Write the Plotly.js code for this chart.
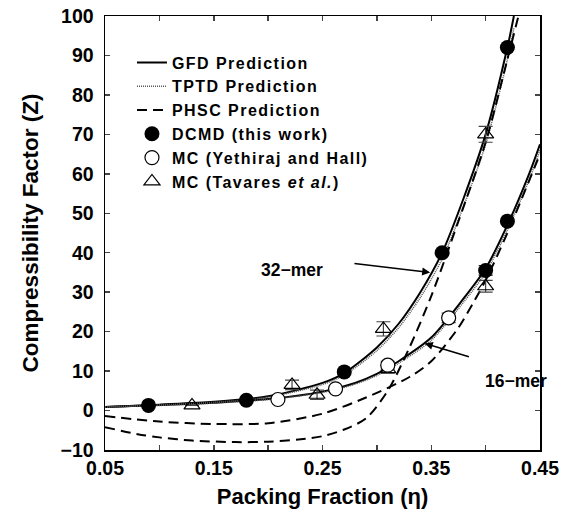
<!DOCTYPE html>
<html>
<head>
<meta charset="utf-8">
<script src="https://cdn.plot.ly/plotly-3.0.1.min.js"></script>
<style>
html,body{margin:0;padding:0;background:#fff;}
#chart{width:571px;height:514px;}
.legendtext{letter-spacing:1.45px;}
</style>
</head>
<body>
<div id="chart"></div>
<script>
// ---- data ----
// 32-mer predictions
const eta32Pred   = [0.05, 0.10, 0.15, 0.20, 0.25, 0.27, 0.30, 0.32, 0.34, 0.36, 0.38, 0.40, 0.42, 0.426];
const gfd32       = [0.9, 1.5, 2.2, 3.6, 7.0, 9.5, 16, 22, 30, 40, 54, 70, 92, 100];
const tptd32      = [0.9, 1.4, 2.1, 3.4, 6.6, 9.0, 15.2, 21, 28.7, 38.4, 52, 67.5, 89, 97];
const etaPhsc32   = [0.05, 0.08, 0.10, 0.13, 0.17, 0.20, 0.23, 0.25, 0.27, 0.29, 0.31, 0.33, 0.35, 0.375, 0.40, 0.42, 0.432];
const phsc32      = [-4.2, -6.0, -6.8, -7.6, -8.0, -7.9, -7.3, -6.5, -4.8, -2.0, 5, 16, 29, 48, 68, 89, 102];
// 16-mer predictions
const eta16Pred   = [0.05, 0.10, 0.15, 0.20, 0.25, 0.28, 0.30, 0.32, 0.35, 0.38, 0.40, 0.42, 0.44, 0.45];
const gfd16       = [0.9, 1.4, 2.0, 2.9, 4.8, 7.0, 9.3, 12.5, 18.5, 28.5, 36, 47, 60, 67.5];
const tptd16      = [0.9, 1.3, 1.9, 2.8, 4.6, 6.7, 8.9, 12.0, 17.8, 27.6, 35, 45.8, 58.5, 66];
const etaPhsc16   = [0.05, 0.10, 0.15, 0.20, 0.25, 0.29, 0.33, 0.35, 0.375, 0.39, 0.40, 0.42, 0.45];
const phsc16      = [-1.4, -2.8, -3.4, -3.2, -0.8, 3.3, 8.5, 12.5, 21, 28, 33, 45, 65];
// DCMD (this work)
const dcmdEta     = [0.09, 0.18, 0.27, 0.36, 0.42, 0.40, 0.42];
const dcmdZ       = [1.3, 2.6, 9.8, 40, 92, 35.5, 48];
const dcmdErr     = [0, 0, 0, 0, 0, 1.2, 0];
// MC (Yethiraj and Hall)
const yhEta       = [0.209, 0.262, 0.31, 0.366];
const yhZ         = [2.8, 5.5, 11.5, 23.5];
const yhErr       = [0, 0, 1, 1.2];
// MC (Tavares et al.)
const tvEta       = [0.13, 0.222, 0.245, 0.306, 0.31, 0.40, 0.40];
const tvZ         = [1.3, 6.5, 4.0, 20.7, 10.5, 70, 31.5];
const tvErr       = [0, 1.2, 1.2, 1.8, 1.0, 2, 1.5];
// axis ticks
const xTickVals   = [0.05, 0.10, 0.15, 0.20, 0.25, 0.30, 0.35, 0.40, 0.45];
const xTickText   = ['0.05', '', '0.15', '', '0.25', '', '0.35', '', '0.45'];
const yTickVals   = [-10, 0, 10, 20, 30, 40, 50, 60, 70, 80, 90, 100];
const yTickText   = ['\u221210', '0', '10', '20', '30', '40', '50', '60', '70', '80', '90', '100'];

const FONT = 'Liberation Sans, Arial, Helvetica, sans-serif';
const solid = {color: '#000', width: 2, shape: 'spline', smoothing: 0.8};
const dotted = {color: '#555', width: 1.6, dash: '1px,1px', shape: 'spline', smoothing: 0.8};
const dashed = {color: '#000', width: 2, dash: '10px,6px', shape: 'spline', smoothing: 0.8};

const traces = [
  {x: eta32Pred, y: gfd32, mode: 'lines', line: solid, name: 'GFD Prediction', legendgroup: 'gfd', legendrank: 1},
  {x: eta16Pred, y: gfd16, mode: 'lines', line: solid, name: 'GFD Prediction', legendgroup: 'gfd', showlegend: false},
  {x: eta32Pred, y: tptd32, mode: 'lines', line: dotted, name: 'TPTD Prediction', legendgroup: 'tptd', legendrank: 2},
  {x: eta16Pred, y: tptd16, mode: 'lines', line: dotted, name: 'TPTD Prediction', legendgroup: 'tptd', showlegend: false},
  {x: etaPhsc32, y: phsc32, mode: 'lines', line: dashed, name: 'PHSC Prediction', legendgroup: 'phsc', legendrank: 3},
  {x: etaPhsc16, y: phsc16, mode: 'lines', line: dashed, name: 'PHSC Prediction', legendgroup: 'phsc', showlegend: false},
  {x: tvEta, y: tvZ, mode: 'markers', name: 'MC (Tavares <i>et al.</i>)', legendrank: 6,
   marker: {symbol: 'triangle-up-open', size: 14, color: '#000', line: {width: 1.2}},
   error_y: {type: 'data', array: tvErr, visible: true, color: '#444', thickness: 1.2, width: 7}},
  {x: yhEta, y: yhZ, mode: 'markers', name: 'MC (Yethiraj and Hall)', legendrank: 5,
   marker: {symbol: 'circle', size: 14, color: '#fff', line: {color: '#000', width: 1.2}},
   error_y: {type: 'data', array: yhErr, visible: true, color: '#444', thickness: 1.2, width: 7}},
  {x: dcmdEta, y: dcmdZ, mode: 'markers', name: 'DCMD (this work)', legendrank: 4,
   marker: {symbol: 'circle', size: 15, color: '#000'},
   error_y: {type: 'data', array: dcmdErr, visible: true, color: '#000', thickness: 1.2, width: 7}}
];

const layout = {
  width: 571, height: 514,
  margin: {l: 105, r: 31, t: 16, b: 64},
  paper_bgcolor: '#fff', plot_bgcolor: '#fff',
  font: {family: FONT, color: '#000', weight: 'bold'},
  showlegend: true,
  legend: {x: 0.062, y: 0.932, xanchor: 'left', yanchor: 'top', bgcolor: 'rgba(0,0,0,0)',
           font: {family: FONT, size: 16, weight: 'bold', color: '#000'}, traceorder: 'normal',
           tracegroupgap: 0},
  xaxis: {range: [0.05, 0.45], tickvals: xTickVals, ticktext: xTickText, ticks: 'inside', ticklen: 5,
          tickwidth: 1.5, showline: true, linewidth: 1.5, linecolor: '#000', mirror: 'ticks',
          showgrid: false, zeroline: false, tickfont: {family: FONT, size: 19.5, weight: 'bold'},
          title: {text: 'Packing Fraction (\u03b7)', font: {family: FONT, size: 22, weight: 'bold'}, standoff: 10}},
  yaxis: {range: [-10, 100], tickvals: yTickVals, ticktext: yTickText, ticks: 'inside', ticklen: 5,
          tickwidth: 1.5, showline: true, linewidth: 1.5, linecolor: '#000', mirror: 'ticks',
          showgrid: false, zeroline: false, tickfont: {family: FONT, size: 19.5, weight: 'bold'},
          ticklabelstandoff: 6,
          title: {text: 'Compressibility Factor (Z)', font: {family: FONT, size: 22.5, weight: 'bold'}, standoff: 15}},
  annotations: [
    {x: 0.349, y: 35, ax: 0.278, ay: 37.3, axref: 'x', ayref: 'y', xref: 'x', yref: 'y', text: '',
     showarrow: true, arrowhead: 2, arrowsize: 1, arrowwidth: 1.6, arrowcolor: '#000'},
    {x: 0.344, y: 17, ax: 0.386, ay: 13.5, axref: 'x', ayref: 'y', xref: 'x', yref: 'y', text: '',
     showarrow: true, arrowhead: 2, arrowsize: 1, arrowwidth: 1.6, arrowcolor: '#000'},
    {x: 0.222, y: 35.5, xref: 'x', yref: 'y', text: '32\u2212mer', showarrow: false,
     font: {family: FONT, size: 17.5, weight: 'bold', color: '#000'}},
    {x: 0.428, y: 7.6, xref: 'x', yref: 'y', text: '16\u2212mer', showarrow: false,
     font: {family: FONT, size: 17.5, weight: 'bold', color: '#000'}}
  ]
};

Plotly.newPlot('chart', traces, layout, {displayModeBar: false, staticPlot: true});
</script>
</body>
</html>
